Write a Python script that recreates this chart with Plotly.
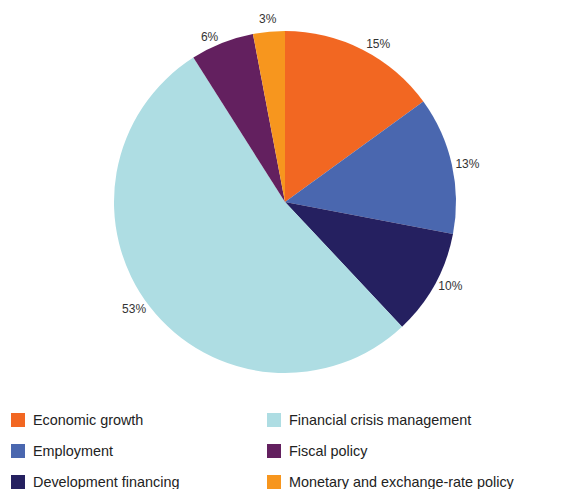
import math
import plotly.graph_objects as go

categories = ["Economic growth", "Employment", "Development financing",
              "Financial crisis management", "Fiscal policy",
              "Monetary and exchange-rate policy"]
shares = [15, 13, 10, 53, 6, 3]
colors = ["#F26722", "#4A67AF", "#252060", "#AEDDE3", "#63205F", "#F7961E"]

# legend layout order (row-major, two columns)
legend_order = ["Economic growth", "Financial crisis management",
                "Employment", "Fiscal policy",
                "Development financing", "Monetary and exchange-rate policy"]

# page has an 8px body margin; lay out in reference pixels then convert
OFF = 8
W, H = 582 - OFF, 489 - OFF


def px(x):
    return (x - OFF) / W


def py(y):
    return 1 - (y - OFF) / H


FONT = "Liberation Sans, Arial, sans-serif"
cx, cy, R = 285, 202, 171

# last (tiny) slice label is placed as an annotation to avoid plotly's leader line
n = len(shares)
textpos = ["outside"] * (n - 1) + ["none"]

fig = go.Figure()
fig.add_trace(go.Pie(
    labels=categories, values=shares, sort=False,
    direction="clockwise", rotation=0,
    marker=dict(colors=colors, line=dict(width=0)),
    texttemplate="%{percent:.0%}", textposition=textpos,
    textfont=dict(family=FONT, size=12, color="#333333"),
    showlegend=False, hoverinfo="label+percent",
    domain=dict(x=[px(cx - R), px(cx + R)], y=[py(cy + R), py(cy - R)]),
))

annotations = []
total = sum(shares)
cum = 0
for i, v in enumerate(shares):
    mid = (cum + v / 2) / total * 2 * math.pi
    cum += v
    if textpos[i] != "none":
        continue
    s, c = math.sin(mid), math.cos(mid)
    ext = abs(s) * 10 + abs(c) * 6
    d = R + 6 + ext
    annotations.append(dict(text=f"{round(v / total * 100)}%", xref="paper", yref="paper",
                            x=px(cx + d * s), y=py(cy - d * c),
                            xanchor="center", yanchor="middle", showarrow=False,
                            font=dict(family=FONT, size=12, color="#333333")))

shapes = []
col_x = [11, 267]
row_y = [420, 451, 482]
for i, name in enumerate(legend_order):
    r, c = divmod(i, 2)
    x0 = col_x[c]
    yc = row_y[r]
    shapes.append(dict(type="rect", xref="paper", yref="paper",
                       x0=px(x0), x1=px(x0 + 14),
                       y0=py(yc + 7), y1=py(yc - 7),
                       fillcolor=colors[categories.index(name)], line=dict(width=0)))
    annotations.append(dict(text=name, xref="paper", yref="paper",
                            x=px(x0 + 20), y=py(yc),
                            xanchor="left", yanchor="middle", showarrow=False,
                            font=dict(family=FONT, size=14.4, color="#222222")))

fig.update_layout(
    width=W, height=H,
    margin=dict(l=0, r=0, t=0, b=0),
    paper_bgcolor="white", plot_bgcolor="white",
    shapes=shapes, annotations=annotations,
)

fig.write_html("out.html")
